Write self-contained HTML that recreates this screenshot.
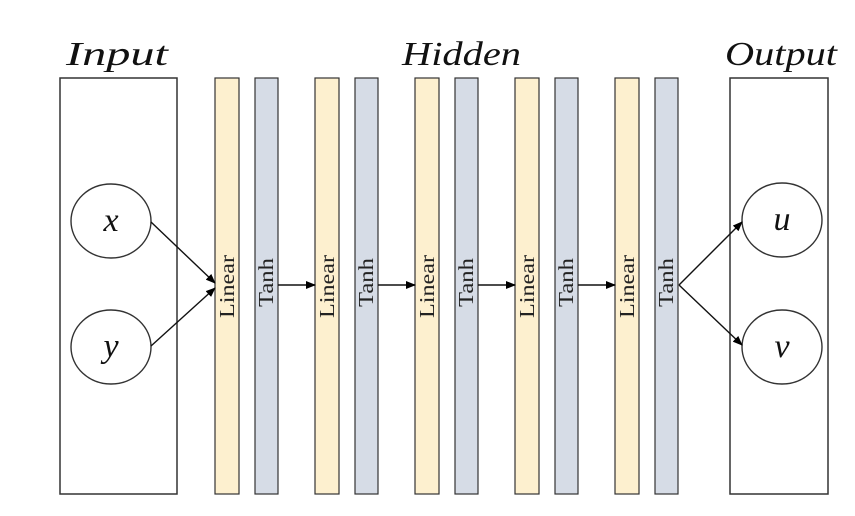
<!DOCTYPE html>
<html><head><style>body{margin:0;background:#fff}</style></head><body>
<svg width="855" height="511" xmlns="http://www.w3.org/2000/svg" font-family="'Liberation Serif', serif">
<defs><marker id="a" markerWidth="10" markerHeight="8" refX="9" refY="4" orient="auto" markerUnits="userSpaceOnUse"><path d="M0,0 L10,4 L0,8 Z" fill="#000"/></marker></defs>
<g font-style="italic" font-size="34" fill="#111">
<text x="66" y="65" textLength="102" lengthAdjust="spacingAndGlyphs">Input</text>
<text x="402" y="65" textLength="119" lengthAdjust="spacingAndGlyphs">Hidden</text>
<text x="725" y="65" textLength="112" lengthAdjust="spacingAndGlyphs">Output</text>
</g>
<g fill="none" stroke="#333" stroke-width="1.5">
<rect x="60" y="78" width="117" height="416" fill="#fff"/>
<rect x="730" y="78" width="98" height="416" fill="#fff"/>
</g>
<g stroke="#333" stroke-width="1.2">
<rect x="215" y="78" width="24" height="416" fill="#fdf0cf"/>
<rect x="255" y="78" width="23" height="416" fill="#d6dce6"/>
<rect x="315" y="78" width="24" height="416" fill="#fdf0cf"/>
<rect x="355" y="78" width="23" height="416" fill="#d6dce6"/>
<rect x="415" y="78" width="24" height="416" fill="#fdf0cf"/>
<rect x="455" y="78" width="23" height="416" fill="#d6dce6"/>
<rect x="515" y="78" width="24" height="416" fill="#fdf0cf"/>
<rect x="555" y="78" width="23" height="416" fill="#d6dce6"/>
<rect x="615" y="78" width="24" height="416" fill="#fdf0cf"/>
<rect x="655" y="78" width="23" height="416" fill="#d6dce6"/>
</g>
<g font-size="21" fill="#222">
<text transform="translate(234,318) rotate(-90)" textLength="63" lengthAdjust="spacingAndGlyphs">Linear</text>
<text transform="translate(273,307) rotate(-90)" textLength="49" lengthAdjust="spacingAndGlyphs">Tanh</text>
<text transform="translate(334,318) rotate(-90)" textLength="63" lengthAdjust="spacingAndGlyphs">Linear</text>
<text transform="translate(373,307) rotate(-90)" textLength="49" lengthAdjust="spacingAndGlyphs">Tanh</text>
<text transform="translate(434,318) rotate(-90)" textLength="63" lengthAdjust="spacingAndGlyphs">Linear</text>
<text transform="translate(473,307) rotate(-90)" textLength="49" lengthAdjust="spacingAndGlyphs">Tanh</text>
<text transform="translate(534,318) rotate(-90)" textLength="63" lengthAdjust="spacingAndGlyphs">Linear</text>
<text transform="translate(573,307) rotate(-90)" textLength="49" lengthAdjust="spacingAndGlyphs">Tanh</text>
<text transform="translate(634,318) rotate(-90)" textLength="63" lengthAdjust="spacingAndGlyphs">Linear</text>
<text transform="translate(673,307) rotate(-90)" textLength="49" lengthAdjust="spacingAndGlyphs">Tanh</text>
</g>
<g fill="#fff" stroke="#333" stroke-width="1.4">
<ellipse cx="111" cy="221" rx="40" ry="37"/>
<ellipse cx="111" cy="347" rx="40" ry="37"/>
<ellipse cx="782" cy="220" rx="40" ry="37"/>
<ellipse cx="782" cy="347" rx="40" ry="37"/>
</g>
<g font-style="italic" font-size="34" text-anchor="middle" fill="#111">
<text x="111" y="231">x</text>
<text x="111" y="357">y</text>
<text x="782" y="230">u</text>
<text x="782" y="357">v</text>
</g>
<g stroke="#111" stroke-width="1.4" marker-end="url(#a)">
<line x1="151" y1="222" x2="215" y2="283"/>
<line x1="151" y1="346" x2="215" y2="288"/>
<line x1="278" y1="285" x2="315" y2="285"/>
<line x1="378" y1="285" x2="415" y2="285"/>
<line x1="478" y1="285" x2="515" y2="285"/>
<line x1="578" y1="285" x2="615" y2="285"/>
<line x1="679" y1="285" x2="742" y2="222"/>
<line x1="679" y1="285" x2="742" y2="345"/>
</g>
</svg>
</body></html>
